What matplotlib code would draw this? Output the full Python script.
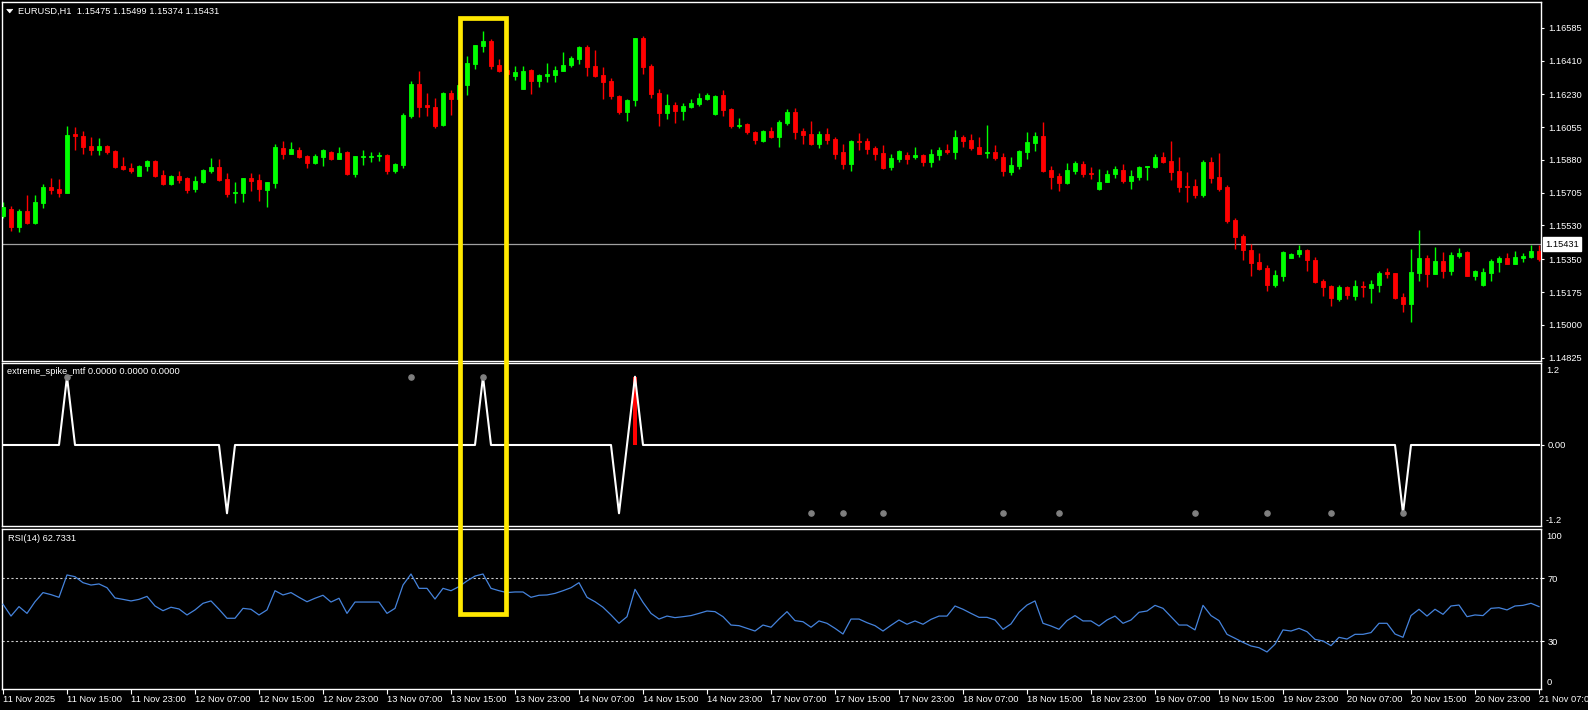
import matplotlib
matplotlib.use('Agg')
import matplotlib.pyplot as plt
from matplotlib.patches import Rectangle, Polygon
import matplotlib.transforms as mtransforms
import numpy as np

plt.rcParams['font.family'] = ['Liberation Sans', 'DejaVu Sans']

# ---------------- data ----------------
title_text = "EURUSD,H1  1.15475 1.15499 1.15374 1.15431"
ind_title = "extreme_spike_mtf 0.0000 0.0000 0.0000"
rsi_title = "RSI(14) 62.7331"
bid_price = 1.15431

opens = [1.15581, 1.15618, 1.15522, 1.15608, 1.15544, 1.15650, 1.15736, 1.15725, 1.15704, 1.16016,
         1.16008, 1.15954, 1.15933, 1.15954, 1.15928, 1.15848, 1.15837, 1.15794, 1.15848, 1.15874,
         1.15800, 1.15752, 1.15794, 1.15784, 1.15725, 1.15762, 1.15821, 1.15842, 1.15778, 1.15704,
         1.15704, 1.15784, 1.15773, 1.15720, 1.15757, 1.15944, 1.15912, 1.15933, 1.15901, 1.15864,
         1.15896, 1.15922, 1.15885, 1.15922, 1.15805, 1.15898, 1.15898, 1.15901, 1.15906, 1.15821,
         1.15853, 1.16114, 1.16285, 1.16173, 1.16162, 1.16066, 1.16237, 1.16205, 1.16280, 1.16392,
         1.16488, 1.16514, 1.16386, 1.16360, 1.16328, 1.16258, 1.16360, 1.16301, 1.16328, 1.16333,
         1.16354, 1.16386, 1.16418, 1.16482, 1.16381, 1.16333, 1.16301, 1.16221, 1.16136, 1.16200,
         1.16530, 1.16381, 1.16237, 1.16130, 1.16173, 1.16141, 1.16162, 1.16178, 1.16205, 1.16125,
         1.16226, 1.16152, 1.16061, 1.16072, 1.16029, 1.15981, 1.16034, 1.16002, 1.16077, 1.16136,
         1.16034, 1.16018, 1.15965, 1.16018, 1.15992, 1.15922, 1.15858, 1.15981, 1.15981, 1.15944,
         1.15917, 1.15842, 1.15885, 1.15906, 1.15896, 1.15906, 1.15869, 1.15906, 1.15933, 1.15922,
         1.16002, 1.15986, 1.15949, 1.15917, 1.15922, 1.15896, 1.15816, 1.15848, 1.15922, 1.15970,
         1.16008, 1.15826, 1.15794, 1.15757, 1.15821, 1.15858, 1.15810, 1.15725, 1.15762, 1.15805,
         1.15826, 1.15768, 1.15789, 1.15842, 1.15842, 1.15896, 1.15874, 1.15821, 1.15741, 1.15741,
         1.15693, 1.15869, 1.15789, 1.15736, 1.15560, 1.15474, 1.15400, 1.15336, 1.15304, 1.15213,
         1.15261, 1.15357, 1.15378, 1.15400, 1.15346, 1.15234, 1.15208, 1.15138, 1.15202, 1.15154,
         1.15208, 1.15197, 1.15213, 1.15282, 1.15277, 1.15149, 1.15112, 1.15277, 1.15357, 1.15272,
         1.15341, 1.15288, 1.15368, 1.15389, 1.15261, 1.15213, 1.15277, 1.15336, 1.15357, 1.15325,
         1.15357, 1.15362, 1.15394]

highs = [1.15656, 1.15634, 1.15618, 1.15693, 1.15693, 1.15752, 1.15784, 1.15778, 1.16061, 1.16056,
         1.16034, 1.16002, 1.15997, 1.15960, 1.15933, 1.15896, 1.15864, 1.15853, 1.15880, 1.15880,
         1.15826, 1.15800, 1.15821, 1.15789, 1.15794, 1.15832, 1.15890, 1.15885, 1.15810, 1.15762,
         1.15784, 1.15810, 1.15805, 1.15762, 1.15965, 1.15981, 1.15976, 1.15949, 1.15906, 1.15912,
         1.15938, 1.15928, 1.15949, 1.15928, 1.15901, 1.15933, 1.15922, 1.15922, 1.15912, 1.15864,
         1.16130, 1.16301, 1.16354, 1.16237, 1.16210, 1.16240, 1.16253, 1.16290, 1.16434, 1.16493,
         1.16568, 1.16525, 1.16418, 1.16365, 1.16381, 1.16381, 1.16365, 1.16338, 1.16397, 1.16381,
         1.16456, 1.16434, 1.16488, 1.16493, 1.16466, 1.16376, 1.16317, 1.16226, 1.16205, 1.16530,
         1.16541, 1.16392, 1.16258, 1.16232, 1.16189, 1.16184, 1.16205, 1.16237, 1.16237, 1.16226,
         1.16253, 1.16157, 1.16104, 1.16077, 1.16034, 1.16040, 1.16056, 1.16093, 1.16152, 1.16157,
         1.16050, 1.16088, 1.16034, 1.16050, 1.16002, 1.15965, 1.15986, 1.16024, 1.15997, 1.15954,
         1.15960, 1.15912, 1.15933, 1.15922, 1.15949, 1.15912, 1.15938, 1.15949, 1.15965, 1.16040,
         1.16013, 1.16018, 1.16002, 1.16066, 1.15960, 1.15917, 1.15896, 1.15933, 1.16029, 1.16029,
         1.16082, 1.15848, 1.15810, 1.15864, 1.15874, 1.15874, 1.15842, 1.15832, 1.15826, 1.15848,
         1.15858, 1.15826, 1.15848, 1.15848, 1.15912, 1.15922, 1.15981, 1.15896, 1.15816, 1.15778,
         1.15880, 1.15896, 1.15917, 1.15746, 1.15570, 1.15485, 1.15432, 1.15384, 1.15320, 1.15293,
         1.15394, 1.15384, 1.15426, 1.15405, 1.15362, 1.15245, 1.15213, 1.15213, 1.15208, 1.15240,
         1.15234, 1.15240, 1.15288, 1.15304, 1.15277, 1.15170, 1.15405, 1.15506, 1.15373, 1.15416,
         1.15389, 1.15389, 1.15410, 1.15394, 1.15293, 1.15304, 1.15352, 1.15368, 1.15384, 1.15394,
         1.15384, 1.15426, 1.15426]

lows = [1.15570, 1.15501, 1.15496, 1.15538, 1.15538, 1.15624, 1.15698, 1.15682, 1.15704, 1.15933,
        1.15912, 1.15906, 1.15906, 1.15912, 1.15837, 1.15826, 1.15810, 1.15794, 1.15821, 1.15789,
        1.15746, 1.15748, 1.15757, 1.15704, 1.15709, 1.15757, 1.15810, 1.15768, 1.15682, 1.15650,
        1.15656, 1.15714, 1.15661, 1.15629, 1.15730, 1.15885, 1.15912, 1.15890, 1.15837, 1.15858,
        1.15848, 1.15880, 1.15885, 1.15800, 1.15789, 1.15853, 1.15869, 1.15874, 1.15805, 1.15810,
        1.15837, 1.16104, 1.16109, 1.16114, 1.16050, 1.16061, 1.16120, 1.16195, 1.16226, 1.16365,
        1.16456, 1.16365, 1.16349, 1.16330, 1.16306, 1.16258, 1.16232, 1.16269, 1.16296, 1.16298,
        1.16354, 1.16376, 1.16392, 1.16328, 1.16322, 1.16205, 1.16205, 1.16125, 1.16088, 1.16168,
        1.16338, 1.16210, 1.16061, 1.16098, 1.16077, 1.16093, 1.16157, 1.16168, 1.16200, 1.16120,
        1.16114, 1.16050, 1.16050, 1.16018, 1.15965, 1.15976, 1.15997, 1.15949, 1.16066, 1.15992,
        1.15965, 1.15960, 1.15944, 1.15965, 1.15885, 1.15832, 1.15821, 1.15933, 1.15912, 1.15880,
        1.15832, 1.15826, 1.15869, 1.15858, 1.15885, 1.15848, 1.15842, 1.15880, 1.15912, 1.15885,
        1.15949, 1.15933, 1.15912, 1.15890, 1.15880, 1.15794, 1.15800, 1.15832, 1.15885, 1.15928,
        1.15816, 1.15725, 1.15714, 1.15752, 1.15805, 1.15789, 1.15778, 1.15720, 1.15762, 1.15784,
        1.15757, 1.15725, 1.15773, 1.15773, 1.15837, 1.15864, 1.15773, 1.15709, 1.15656, 1.15677,
        1.15682, 1.15757, 1.15714, 1.15544, 1.15405, 1.15346, 1.15261, 1.15293, 1.15181, 1.15202,
        1.15234, 1.15357, 1.15362, 1.15288, 1.15224, 1.15154, 1.15101, 1.15128, 1.15138, 1.15133,
        1.15149, 1.15117, 1.15176, 1.15250, 1.15138, 1.15069, 1.15016, 1.15234, 1.15202, 1.15272,
        1.15250, 1.15266, 1.15357, 1.15261, 1.15240, 1.15208, 1.15234, 1.15282, 1.15325, 1.15325,
        1.15336, 1.15357, 1.15341]

closes = [1.15629, 1.15522, 1.15608, 1.15544, 1.15656, 1.15736, 1.15720, 1.15704, 1.16013, 1.16010,
          1.15949, 1.15933, 1.15954, 1.15922, 1.15842, 1.15832, 1.15821, 1.15848, 1.15874, 1.15794,
          1.15752, 1.15794, 1.15773, 1.15720, 1.15768, 1.15826, 1.15842, 1.15773, 1.15698, 1.15709,
          1.15784, 1.15768, 1.15725, 1.15762, 1.15949, 1.15912, 1.15938, 1.15896, 1.15864, 1.15901,
          1.15933, 1.15885, 1.15917, 1.15805, 1.15901, 1.15901, 1.15901, 1.15906, 1.15821, 1.15858,
          1.16120, 1.16285, 1.16162, 1.16162, 1.16061, 1.16237, 1.16205, 1.16280, 1.16397, 1.16493,
          1.16514, 1.16381, 1.16354, 1.16338, 1.16349, 1.16354, 1.16301, 1.16333, 1.16338, 1.16360,
          1.16386, 1.16424, 1.16482, 1.16376, 1.16328, 1.16296, 1.16221, 1.16136, 1.16200, 1.16530,
          1.16376, 1.16232, 1.16130, 1.16173, 1.16141, 1.16168, 1.16184, 1.16210, 1.16226, 1.16221,
          1.16146, 1.16061, 1.16066, 1.16029, 1.15986, 1.16034, 1.16002, 1.16082, 1.16136, 1.16029,
          1.16013, 1.15965, 1.16018, 1.15986, 1.15912, 1.15858, 1.15981, 1.15976, 1.15938, 1.15912,
          1.15837, 1.15890, 1.15928, 1.15885, 1.15906, 1.15869, 1.15912, 1.15933, 1.15922, 1.16002,
          1.15981, 1.15944, 1.15912, 1.15922, 1.15890, 1.15821, 1.15853, 1.15928, 1.15976, 1.16008,
          1.15821, 1.15789, 1.15757, 1.15826, 1.15864, 1.15805, 1.15805, 1.15762, 1.15805, 1.15832,
          1.15768, 1.15794, 1.15842, 1.15848, 1.15896, 1.15869, 1.15816, 1.15736, 1.15736, 1.15693,
          1.15869, 1.15784, 1.15725, 1.15554, 1.15469, 1.15400, 1.15330, 1.15298, 1.15213, 1.15266,
          1.15389, 1.15378, 1.15400, 1.15346, 1.15229, 1.15202, 1.15144, 1.15202, 1.15160, 1.15208,
          1.15202, 1.15218, 1.15277, 1.15272, 1.15144, 1.15112, 1.15282, 1.15357, 1.15272, 1.15341,
          1.15288, 1.15373, 1.15384, 1.15261, 1.15288, 1.15282, 1.15341, 1.15357, 1.15325, 1.15362,
          1.15368, 1.15394, 1.15352]

rsi_values = [53.5, 46, 52, 47.7, 55.1, 60.9, 59.6, 57.9, 72.1, 71,
              67.2, 65.7, 66.4, 64, 57.5, 56.6, 55.6, 56.6, 58.5, 52.4,
              49.4, 51.6, 50.5, 46.7, 49.9, 54.1, 55.6, 50.3, 44.6, 44.6,
              50.9, 50.3, 46.7, 49.9, 62.1, 59.4, 60.9, 57.9, 55.1, 57.3,
              59.2, 54.9, 57.3, 47.7, 54.9, 54.9, 54.9, 54.9, 47.7, 50.9,
              65.7, 72.7, 63.6, 63.6, 56.8, 63.6, 62.1, 64.7, 68.3, 71.4,
              72.7, 63.6, 62.1, 60.9, 61.3, 61.3, 57.9, 59.2, 59.4, 60.4,
              62.1, 64, 67.2, 57.9, 55.1, 51.6, 46.7, 41.4, 45.6, 63,
              54.7, 47.7, 44.1, 46, 45, 45.6, 46.3, 47.7, 49.2, 48.8,
              45.6, 40.3, 39.9, 38.2, 36.5, 40.3, 38.9, 44.1, 48.8, 43.1,
              42.4, 38.9, 42.9, 41.4, 38.2, 34.6, 44.1, 44.1, 41.8, 39.9,
              36.5, 40.1, 43.5, 40.8, 42.9, 40.8, 43.9, 46, 46, 52.4,
              50.3, 47.7, 45.2, 45.2, 43.5, 37.6, 41, 48.4, 53, 55.6,
              41.4, 39.7, 37.6, 43.1, 46.3, 42.9, 42.9, 39.7, 43.5, 46,
              41.4, 43.5, 48.4, 49.2, 52.8, 50.9, 45.6, 40.3, 40.3, 37.2,
              52.8, 46.3, 43.1, 34.4, 31.9, 29.3, 27, 25.9, 23.2, 28.1,
              37.2, 36.5, 38.2, 36.1, 31.2, 30.2, 27.2, 32.5, 31.4, 34.4,
              34.4, 35.5, 41.4, 41.4, 34.6, 32.5, 46.3, 50.3, 46, 50.3,
              47.1, 52.4, 53, 45.6, 46.7, 46.3, 50.9, 51.3, 49.9, 52.4,
              52.8, 54.1, 52]

# spike indicator: non-zero bars (all other bars are 0.0)
spike_bars = [8, 28, 60, 77, 79, 175]
spike_vals = [1.2, -1.2, 1.2, -1.2, 1.2, -1.2]
hist_bars = [79]
hist_vals = [1.2]
dot_up_bars = [8, 51, 60]
dot_dn_bars = [101, 105, 110, 125, 132, 149, 158, 166, 175]
dot_level = 1.2

price_ticks = [1.16585, 1.16410, 1.16230, 1.16055, 1.15880, 1.15705,
               1.15530, 1.15350, 1.15175, 1.15000, 1.14825]
time_labels = ["11 Nov 2025", "11 Nov 15:00", "11 Nov 23:00", "12 Nov 07:00", "12 Nov 15:00",
               "12 Nov 23:00", "13 Nov 07:00", "13 Nov 15:00", "13 Nov 23:00", "14 Nov 07:00",
               "14 Nov 15:00", "14 Nov 23:00", "17 Nov 07:00", "17 Nov 15:00", "17 Nov 23:00",
               "18 Nov 07:00", "18 Nov 15:00", "18 Nov 23:00", "19 Nov 07:00", "19 Nov 15:00",
               "19 Nov 23:00", "20 Nov 07:00", "20 Nov 15:00", "20 Nov 23:00", "21 Nov 07:00"]
label_step = 8

# ---------------- figure ----------------
W, H = 1588, 710
fig = plt.figure(figsize=(W / 100, H / 100), dpi=100, facecolor='black')
FS = 6.7
WHITE = 'white'


def ax_px(x0, y0, x1, y1):
    return fig.add_axes([x0 / W, 1 - y1 / H, (x1 - x0) / W, (y1 - y0) / H])


ax1 = ax_px(2, 2, 1541, 360.5)
ax2 = ax_px(2, 362.5, 1541, 526)
ax3 = ax_px(2, 528.5, 1541, 689)

n = len(closes)
xs = np.arange(n)
for ax in (ax1, ax2, ax3):
    ax.set_facecolor('black')
    for s in ax.spines.values():
        s.set_color(WHITE)
        s.set_linewidth(1)
    ax.set_xlim(-0.125, 192.25)
    ax.yaxis.tick_right()
    ax.tick_params(axis='y', colors=WHITE, length=2.5, width=0.8, labelsize=FS, pad=2.5)
    ax.tick_params(axis='x', bottom=False, labelbottom=False)

# ---- candles ----
o = np.array(opens); h = np.array(highs); l = np.array(lows); c = np.array(closes)
cols = np.where(c >= o, '#00ff00', '#ff0000')
ax1.vlines(xs, l, h, colors=cols, linewidth=1.0, zorder=2)
ax1.bar(xs, np.abs(c - o), bottom=np.minimum(o, c), width=0.56, color=cols,
        edgecolor=cols, linewidth=0.6, zorder=3)
ax1.set_ylim(1.14810, 1.16722)
ax1.set_yticks(price_ticks)
ax1.set_yticklabels([f"{v:.5f}" for v in price_ticks])
ax1.axhline(bid_price, color='#a0a0a0', linewidth=0.9, zorder=1)
btrans = mtransforms.blended_transform_factory(ax1.transAxes, ax1.transData)
ax1.text(1.0025, bid_price, f"{bid_price:.5f}", transform=btrans, ha='left', va='center',
         color='black', fontsize=FS, clip_on=False,
         bbox=dict(facecolor='white', edgecolor='white', boxstyle='square,pad=0.25'))

# title with small triangle
fig.text(18.3 / W, 1 - 11 / H, title_text, color=WHITE, fontsize=FS, ha='left', va='center')
fig.add_artist(Polygon([[6.7 / W, 1 - 9.3 / H], [12.7 / W, 1 - 9.3 / H], [9.7 / W, 1 - 12.9 / H]],
                       closed=True, transform=fig.transFigure, facecolor=WHITE, edgecolor=WHITE, lw=0.5))

# ---- spike indicator ----
spike = np.zeros(n)
spike[spike_bars] = spike_vals
ax2.bar(hist_bars, hist_vals, width=0.5, color='#ff0000', zorder=2)
ax2.plot(xs, spike, color=WHITE, linewidth=1.5, zorder=3)
ax2.scatter(dot_up_bars, [dot_level] * len(dot_up_bars), s=14, color='#7f7f7f', zorder=4)
ax2.scatter(dot_dn_bars, [-dot_level] * len(dot_dn_bars), s=14, color='#7f7f7f', zorder=4)
ax2.set_ylim(-1.424, 1.45)
ax2.set_yticks([0.0])
ax2.set_yticklabels(["0.00"])
ax2.text(1.0037, 0.954, "1.2", transform=ax2.transAxes, color=WHITE, fontsize=FS, ha='left', va='center')
ax2.text(1.003, 0.032, "-1.2", transform=ax2.transAxes, color=WHITE, fontsize=FS, ha='left', va='center')
ax2.text(0.003, 0.948, ind_title, transform=ax2.transAxes, color=WHITE, fontsize=FS, ha='left', va='center')

# ---- RSI ----
ax3.plot(xs, rsi_values, color='#4583dc', linewidth=0.9, zorder=3)
for lv in (70, 30):
    ax3.axhline(lv, color='#c8c8c8', linewidth=0.8, dashes=(2, 2), zorder=2)
ax3.set_ylim(-0.32, 101.6)
ax3.set_yticks([70, 30])
ax3.set_yticklabels(["70", "30"])
ax3.text(1.0037, 0.949, "100", transform=ax3.transAxes, color=WHITE, fontsize=FS, ha='left', va='center')
ax3.text(1.0037, 0.039, "0", transform=ax3.transAxes, color=WHITE, fontsize=FS, ha='left', va='center')
ax3.text(0.0037, 0.935, rsi_title, transform=ax3.transAxes, color=WHITE, fontsize=FS, ha='left', va='center')

tick_pos = list(range(0, label_step * len(time_labels), label_step))
ax3.set_xticks(tick_pos)
ax3.set_xticklabels(time_labels, ha='left')
ax3.tick_params(axis='x', bottom=True, labelbottom=True, colors=WHITE, length=3.5, width=0.8,
                labelsize=FS, pad=0.5, direction='out')

# ---- yellow highlight box (annotation) ----
bx0, bx1, by0, by1 = 459.8, 505.8, 18.3, 614.0
fig.add_artist(Rectangle((bx0 / W, 1 - by1 / H), (bx1 - bx0) / W, (by1 - by0) / H,
                         transform=fig.transFigure, fill=False, edgecolor='#ffe800',
                         linewidth=3.4, zorder=20))

fig.savefig('out.png', dpi=100, facecolor='black')
